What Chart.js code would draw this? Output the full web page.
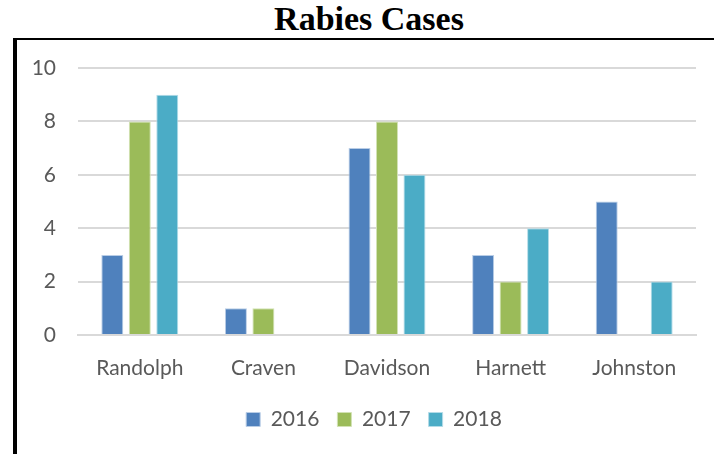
<!DOCTYPE html>
<html>
<meta charset="UTF-8">
<head>
    <title>Rabies Cases</title>
    <script src="https://cdn.jsdelivr.net/npm/chart.js"></script>
    <style>
        body { margin: 0; background: #fff; }
        #title {
            position: absolute; left: 0; top: 0px; width: 738px; text-align: center;
            font: bold 34px "Liberation Serif", serif; color: #000;
        }
        #box {
            position: absolute; left: 13px; top: 38px; width: 710px; height: 430px;
            border-left: 4px solid #000; border-top: 2px solid #000;
        }
        #wrap { position: absolute; left: 0; top: 0; width: 714px; height: 454px; }
    </style>
</head>
<body>
<div id="title">Rabies Cases</div>
<div id="box"></div>
<div id="wrap"><canvas id="rabiesChart" width="714" height="454"></canvas></div>

<script>
    // Maakunnat ja vuosittaiset tapaukset
    var counties = ['Randolph', 'Craven', 'Davidson', 'Harnett', 'Johnston'];
    var cases2016 = [3, 1, 7, 3, 5];
    var cases2017 = [8, 1, 8, 2, 0];
    var cases2018 = [9, 0, 6, 4, 2];
    var yTicks = [0, 2, 4, 6, 8, 10];

    var labelFont = { family: 'Lato', size: 21 };

    // Siirretään selitettä hieman oikealle, kuten alkuperäisessä
    var legendShift = {
        id: 'legendShift',
        afterLayout: function(chart) {
            chart.legend.left += 11;
            chart.legend.right += 11;
        }
    };

    var ctx = document.getElementById('rabiesChart').getContext('2d');
    var chart = new Chart(ctx, {
        type: 'bar',
        data: {
            labels: counties,
            datasets: [{
                label: '2016',
                data: cases2016,
                backgroundColor: '#4F81BD',
                borderColor: '#b9cde6',
                borderWidth: 1
            }, {
                label: '2017',
                data: cases2017,
                backgroundColor: '#9BBB59',
                borderColor: '#d2e2b4',
                borderWidth: 1
            }, {
                label: '2018',
                data: cases2018,
                backgroundColor: '#4BACC6',
                borderColor: '#b3dce8',
                borderWidth: 1
            }]
        },
        plugins: [legendShift],
        options: {
            responsive: false,
            animation: false,
            categoryPercentage: 0.667,
            barPercentage: 0.8,
            layout: { padding: { left: 30, right: 18, top: 68, bottom: 14 } },
            plugins: {
                tooltip: { enabled: false },
                legend: {
                    position: 'bottom',
                    labels: {
                        boxWidth: 14, boxHeight: 14, padding: 18,
                        color: '#595959', font: labelFont
                    }
                }
            },
            scales: {
                x: {
                    grid: { display: false, drawTicks: false },
                    border: { color: '#d9d9d9', width: 2 },
                    ticks: { color: '#595959', font: labelFont, padding: 21 },
                    afterFit: function(scale) { scale.height = 56; }
                },
                y: {
                    min: 0, max: 10,
                    afterBuildTicks: function(scale) {
                        scale.ticks = yTicks.map(function(v) { return { value: v }; });
                    },
                    grid: { color: '#d9d9d9', lineWidth: 2, drawTicks: false },
                    border: { display: false },
                    ticks: { color: '#595959', font: labelFont, padding: 22 },
                    afterFit: function(scale) { scale.width = 48; }
                }
            }
        }
    });
</script>
</body>
</html>
